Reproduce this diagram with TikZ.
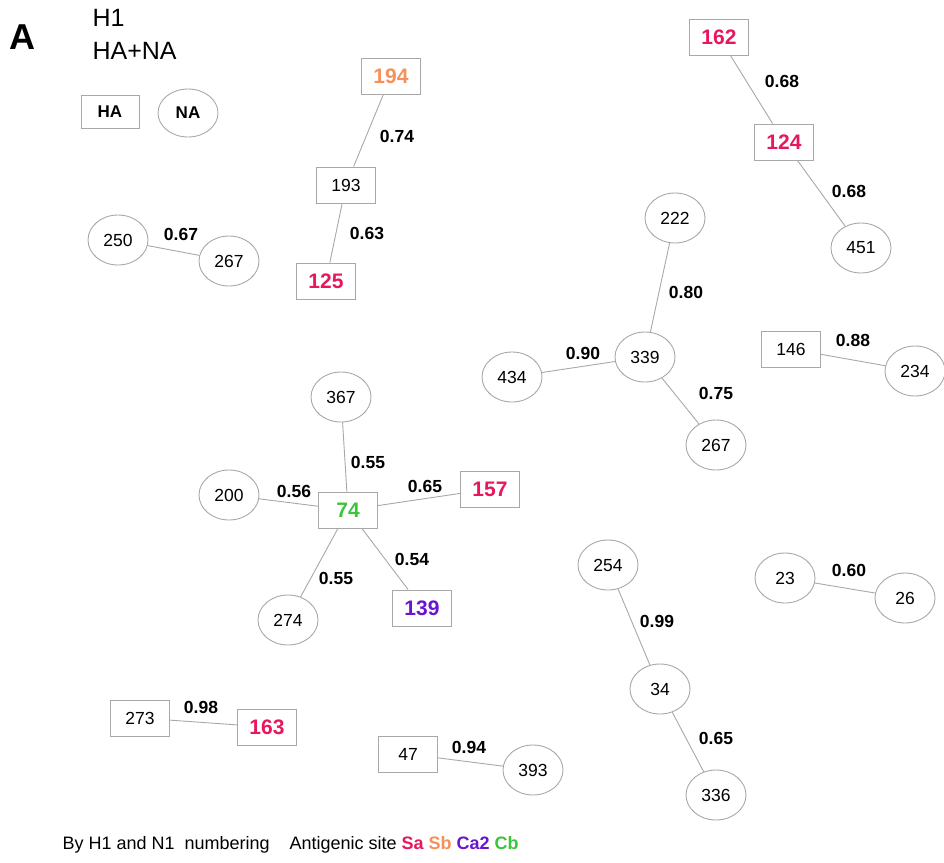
\documentclass[tikz,border=0pt]{standalone}
\usepackage{fontspec}
\setmainfont{Liberation Sans}
\usetikzlibrary{shapes.geometric}
\definecolor{sa}{HTML}{E8175D}
\definecolor{sb}{HTML}{F4915A}
\definecolor{catwo}{HTML}{6A14D2}
\definecolor{cb}{HTML}{3CC43C}
\definecolor{edgegray}{HTML}{A8A8A8}
\tikzset{
  habox/.style={draw=edgegray,line width=0.9pt,rectangle,minimum width=59pt,minimum height=36pt,inner sep=0pt,font=\fontsize{17.5}{17.5}\selectfont},
  naell/.style={draw=edgegray,line width=0.9pt,ellipse,minimum width=60pt,minimum height=50pt,inner sep=0pt,font=\fontsize{17.5}{17.5}\selectfont},
  site/.style={font=\fontsize{21}{21}\selectfont\bfseries},
  wt/.style={font=\fontsize{17.5}{17.5}\selectfont\bfseries},
  link/.style={draw=edgegray,line width=0.9pt}
}

\begin{document}
\begin{tikzpicture}[x=1pt,y=-1pt]
  \useasboundingbox (0,0) rectangle (944,862);

  % Title and legend
  \node[font=\fontsize{36}{36}\selectfont\bfseries] (panel) at (22,37) {A};
  \node[anchor=west,font=\fontsize{25}{25}\selectfont] (sub) at (89,18) {H1};
  \node[anchor=west,font=\fontsize{25}{25}\selectfont] (seg) at (89,51) {HA+NA};
  \node[habox,minimum width=58pt,minimum height=33pt,font=\fontsize{17}{17}\selectfont\bfseries] (keyha) at (110,112) {HA};
  \node[naell,minimum width=60pt,minimum height=48pt,font=\fontsize{17}{17}\selectfont\bfseries] (keyna) at (188,113) {NA};

  % 194 - 193 - 125
  \node[habox,site,text=sb] (h194) at (391,76) {194};
  \node[habox] (h193) at (346,185) {193};
  \node[habox,site,text=sa] (h125) at (326,281) {125};
  \draw[link] (h194) -- (h193);
  \draw[link] (h193) -- (h125);
  \node[wt] (w1) at (397,136) {0.74};
  \node[wt] (w2) at (367,233) {0.63};

  % 162 - 124 - 451
  \node[habox,site,text=sa] (h162) at (719,37) {162};
  \node[habox,site,text=sa] (h124) at (784,142) {124};
  \node[naell] (n451) at (861,248) {451};
  \draw[link] (h162) -- (h124);
  \draw[link] (h124) -- (n451);
  \node[wt] (w3) at (782,81) {0.68};
  \node[wt] (w4) at (849,191) {0.68};

  % 250 - 267
  \node[naell] (n250) at (118,240) {250};
  \node[naell] (n267a) at (229,261) {267};
  \draw[link] (n250) -- (n267a);
  \node[wt] (w5) at (181,234) {0.67};

  % 339 star
  \node[naell] (n222) at (675,218) {222};
  \node[naell] (n339) at (645,357) {339};
  \node[naell] (n434) at (512,377) {434};
  \node[naell] (n267b) at (716,445) {267};
  \draw[link] (n222) -- (n339);
  \draw[link] (n434) -- (n339);
  \draw[link] (n339) -- (n267b);
  \node[wt] (w6) at (686,292) {0.80};
  \node[wt] (w7) at (583,353) {0.90};
  \node[wt] (w8) at (716,393) {0.75};

  % 146 - 234
  \node[habox] (h146) at (791,349) {146};
  \node[naell] (n234) at (915,371) {234};
  \draw[link] (h146) -- (n234);
  \node[wt] (w9) at (853,340) {0.88};

  % 74 star
  \node[habox,site,text=cb] (h74) at (348,510) {74};
  \node[naell] (n367) at (341,397) {367};
  \node[naell] (n200) at (229,495) {200};
  \node[habox,site,text=sa] (h157) at (490,489) {157};
  \node[habox,site,text=catwo] (h139) at (422,608) {139};
  \node[naell] (n274) at (288,620) {274};
  \draw[link] (n367) -- (h74);
  \draw[link] (n200) -- (h74);
  \draw[link] (h74) -- (h157);
  \draw[link] (h74) -- (h139);
  \draw[link] (h74) -- (n274);
  \node[wt] (w10) at (368,462) {0.55};
  \node[wt] (w11) at (294,491) {0.56};
  \node[wt] (w12) at (425,486) {0.65};
  \node[wt] (w13) at (412,559) {0.54};
  \node[wt] (w14) at (336,578) {0.55};

  % 254 - 34 - 336
  \node[naell] (n254) at (608,565) {254};
  \node[naell] (n34) at (660,689) {34};
  \node[naell] (n336) at (716,795) {336};
  \draw[link] (n254) -- (n34);
  \draw[link] (n34) -- (n336);
  \node[wt] (w15) at (657,621) {0.99};
  \node[wt] (w16) at (716,738) {0.65};

  % 23 - 26
  \node[naell] (n23) at (785,578) {23};
  \node[naell] (n26) at (905,598) {26};
  \draw[link] (n23) -- (n26);
  \node[wt] (w17) at (849,570) {0.60};

  % 273 - 163
  \node[habox] (h273) at (140,718) {273};
  \node[habox,site,text=sa] (h163) at (267,727) {163};
  \draw[link] (h273) -- (h163);
  \node[wt] (w18) at (201,707) {0.98};

  % 47 - 393
  \node[habox] (h47) at (408,754) {47};
  \node[naell] (n393) at (533,770) {393};
  \draw[link] (h47) -- (n393);
  \node[wt] (w19) at (469,747) {0.94};

  % Footer
  \node[anchor=west,font=\fontsize{18}{18}\selectfont] (foot) at (59,845)
    {By H1 and N1\ \ numbering};
  \node[anchor=west,font=\fontsize{18}{18}\selectfont] (sites) at (286,845)
    {Antigenic site \textbf{\textcolor{sa}{Sa} \textcolor{sb}{Sb} \textcolor{catwo}{Ca2} \textcolor{cb}{Cb}}};
\end{tikzpicture}
\end{document}
